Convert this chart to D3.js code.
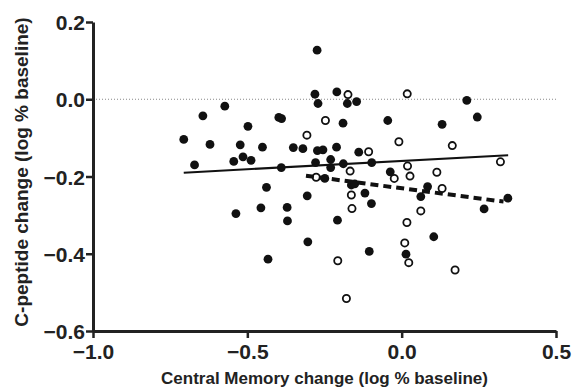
<!DOCTYPE html>
<html>
<head>
<meta charset="utf-8">
<script src="https://d3js.org/d3.v7.min.js"></script>
<style>
  body { margin:0; background:#fff; }
  text { font-family: "Liberation Sans", Arial, sans-serif; font-weight:bold; fill:#222; }
</style>
</head>
<body>
<script>
// filled circles: [x, y]
var filledPts = [
  [-0.274,0.127],[-0.281,0.013],[-0.271,-0.011],[-0.573,-0.018],[-0.644,-0.043],
  [-0.398,-0.047],[-0.389,-0.050],[-0.498,-0.070],[-0.706,-0.104],[-0.621,-0.117],
  [-0.523,-0.118],[-0.451,-0.124],[-0.351,-0.125],[-0.320,-0.128],[-0.273,-0.133],
  [-0.255,-0.131],[-0.514,-0.149],[-0.488,-0.158],[-0.544,-0.161],[-0.671,-0.170],
  [-0.390,-0.177],[-0.279,-0.164],[-0.210,0.019],[-0.176,-0.011],[-0.146,-0.006],
  [0.211,-0.003],[0.245,-0.046],[-0.045,-0.055],[0.131,-0.065],[-0.190,-0.062],
  [-0.211,-0.124],[-0.139,-0.137],[-0.230,-0.156],[-0.189,-0.167],[-0.097,-0.164],
  [-0.230,-0.177],[-0.037,-0.188],[-0.438,-0.228],[-0.537,-0.296],[-0.456,-0.281],
  [-0.371,-0.280],[-0.370,-0.315],[-0.306,-0.250],[-0.304,-0.369],[-0.433,-0.414],
  [-0.249,-0.205],[-0.163,-0.222],[-0.152,-0.219],[-0.119,-0.243],[-0.098,-0.270],
  [-0.208,-0.313],[-0.105,-0.394],[0.014,-0.401],[0.084,-0.226],[0.062,-0.252],
  [0.104,-0.356],[0.267,-0.284],[0.344,-0.256]
];
// open circles: [x, y]
var openPts = [
  [-0.247,-0.055],[-0.307,-0.093],[-0.174,0.012],[0.018,0.014],[-0.009,-0.110],
  [0.164,-0.120],[-0.107,-0.136],[0.320,-0.162],[0.019,-0.173],[-0.167,-0.186],
  [0.114,-0.189],[0.027,-0.199],[-0.024,-0.205],[-0.277,-0.202],[-0.163,-0.248],
  [-0.161,-0.283],[-0.207,-0.418],[-0.179,-0.516],[0.017,-0.319],[0.010,-0.372],
  [0.023,-0.423],[0.062,-0.289],[0.131,-0.231],[0.173,-0.442]
];
// fitted lines (end points)
var filledFit = [[-0.706,-0.190],[0.345,-0.145]];
var openFit = [[-0.31,-0.198],[0.33,-0.265]];

var xTicks = [-1.0, -0.5, 0.0, 0.5];
var yTicks = [-0.6, -0.4, -0.2, 0.0, 0.2];

var W = 573, H = 389;
var svg = d3.select("body").append("svg").attr("width", W).attr("height", H);

var x = d3.scaleLinear().domain([-1, 0.5]).range([93, 556]);
var y = d3.scaleLinear().domain([-0.6, 0.2]).range([331, 22]);

// zero reference line
svg.append("line")
  .attr("x1", x(-1)).attr("x2", x(0.5))
  .attr("y1", y(0)).attr("y2", y(0))
  .attr("stroke", "#888").attr("stroke-width", 1)
  .attr("stroke-dasharray", "1,2");

var xAxis = svg.append("g")
  .attr("transform", "translate(0," + y(-0.6) + ")")
  .call(d3.axisBottom(x).tickValues(xTicks).tickFormat(d3.format(".1f")).tickSize(7).tickSizeOuter(0));
var yAxis = svg.append("g")
  .attr("transform", "translate(" + x(-1) + ",0)")
  .call(d3.axisLeft(y).tickValues(yTicks).tickFormat(d3.format(".1f")).tickSize(7).tickSizeOuter(0));

[xAxis, yAxis].forEach(function(g) {
  g.select(".domain").attr("stroke", "#222").attr("stroke-width", 3);
  g.selectAll(".tick line").attr("stroke", "#222").attr("stroke-width", 2.5);
  g.selectAll(".tick text").style("font-family", "Liberation Sans, Arial, sans-serif")
    .style("font-weight", "bold").style("font-size", "21px").attr("fill", "#222");
});
xAxis.selectAll(".tick text").attr("dy", "0.95em").attr("y", 8);
yAxis.selectAll(".tick text").attr("x", -8).attr("dy", "0.36em");

var line = d3.line().x(function(d){ return x(d[0]); }).y(function(d){ return y(d[1]); });

svg.append("path").datum(filledFit).attr("d", line)
  .attr("fill", "none").attr("stroke", "#111").attr("stroke-width", 2);

svg.selectAll("circle.filled").data(filledPts).enter().append("circle")
  .attr("class", "filled")
  .attr("cx", function(d){ return x(d[0]); })
  .attr("cy", function(d){ return y(d[1]); })
  .attr("r", 4.4).attr("fill", "#111");

svg.selectAll("circle.open").data(openPts).enter().append("circle")
  .attr("class", "open")
  .attr("cx", function(d){ return x(d[0]); })
  .attr("cy", function(d){ return y(d[1]); })
  .attr("r", 3.6).attr("fill", "#fff").attr("stroke", "#111").attr("stroke-width", 1.8);

svg.append("path").datum(openFit).attr("d", line)
  .attr("fill", "none").attr("stroke", "#111").attr("stroke-width", 4)
  .attr("stroke-dasharray", "8,5");

svg.append("text")
  .attr("x", (x(-1) + x(0.5)) / 2).attr("y", 384)
  .attr("text-anchor", "middle").style("font-size", "17px")
  .text("Central Memory change (log % baseline)");

svg.append("text")
  .attr("transform", "translate(28," + 172 + ") rotate(-90)")
  .attr("text-anchor", "middle").style("font-size", "19px")
  .text("C-peptide change (log % baseline)");
</script>
</body>
</html>
